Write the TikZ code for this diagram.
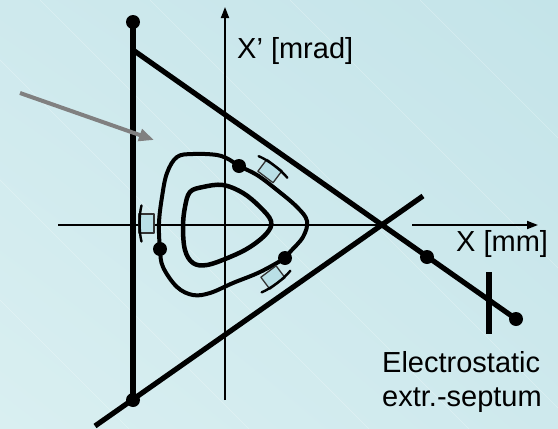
\documentclass[tikz,border=0pt]{standalone}
\usepackage{fontspec}
\setmainfont{Liberation Sans}
\usetikzlibrary{arrows.meta,shadings}
\definecolor{bgA}{HTML}{C4E4E9}
\definecolor{bgB}{HTML}{D9EFF1}
\definecolor{bgM}{HTML}{CEE9ED}
\definecolor{boxfill}{HTML}{B9DFE6}
\definecolor{arrowgray}{HTML}{808080}
\begin{document}
\begin{tikzpicture}[x=1pt,y=-1pt,
  frame/.style={line width=5.2pt},
  orbitline/.style={line width=4pt, line join=round},
  axisline/.style={line width=1.8pt},
  axisarrow/.style={axisline, -{Triangle[length=11pt,width=8pt]}},
  dotpt/.style={circle, fill=black, inner sep=0pt, minimum size=14pt},
  lbl/.style={font=\fontsize{29}{35}\selectfont, inner sep=0pt},
  septbox/.style={fill=boxfill, draw=black!80, line width=1.3pt, line join=round},
  septplate/.style={draw=black, line width=2.4pt, line cap=round},
  faint/.style={white, opacity=0.3, line width=0.7pt}
]
\useasboundingbox (0,0) rectangle (558,429);
% background
\shade[upper right=bgA, lower left=bgB, upper left=bgM, lower right=bgM] (0,0) rectangle (558,429);
\foreach \c in {-300,-180,-60,40,150,290,420,560}
  \draw[faint] (\c,0) -- ++(429,429);

% axes
\coordinate (ybot) at (225,400);
\coordinate (ytop) at (225,7);
\coordinate (xl) at (58,225);
\coordinate (xm1) at (378,225);
\coordinate (xm2) at (412,225);
\coordinate (xr) at (538,225);
\draw[axisarrow] (ybot) -- (ytop);
\draw[axisline] (xl) -- (xm1);
\draw[axisarrow] (xm2) -- (xr);

% separatrix triangle
\node[dotpt] (vt) at (133,22) {};
\node[dotpt] (vb) at (133,400) {};
\coordinate (ua) at (133,50);
\node[dotpt] (ue) at (516,319) {};
\node[dotpt] (um) at (427,257) {};
\coordinate (la) at (95,426);
\coordinate (le) at (423,196);
\draw[frame] (vt.center) -- (vb.center);
\draw[frame] (ua) -- (ue.center);
\draw[frame] (la) -- (le);

% septum
\coordinate (st) at (489,272);
\coordinate (sb) at (489,334);
\draw[frame] (st) -- (sb);

% orbits
\draw[orbitline] plot[smooth cycle, tension=0.6] coordinates {
 (177,157) (193,154) (217,155) (230,160) (239,166) (257,175) (277,190)
 (297,207) (307,221) (303,237) (290,252) (285,258) (260,272) (233,283)
 (210,293) (193,295) (177,287) (163,267) (160,249) (159,223) (162,197) (167,173)};
\draw[orbitline, line width=4.5pt] plot[smooth cycle, tension=0.6] coordinates {
 (190,192) (203,187) (223,185) (243,193) (260,207) (271,221) (267,233)
 (250,247) (230,257) (207,265) (193,263) (185,250) (183,227) (185,207)};
\node[dotpt] (o1) at (239,166) {};
\node[dotpt] (o2) at (285,258) {};
\node[dotpt] (o3) at (160,249) {};

% septum symbols
\foreach \px/\py/\ang in {139/223.5/0, 274.5/165/233, 277.5/283.5/127}{
  \begin{scope}[shift={(\px,\py)}, rotate=\ang]
    \draw[septbox] (0,-9.5) rectangle (15,9.5);
    \draw[septplate] (2.5,-18) .. controls (0,-9) and (0,9) .. (2.5,18);
  \end{scope}
}

% gray arrow
\coordinate (ga) at (20,93);
\coordinate (gb) at (154,140);
\draw[arrowgray, line width=4pt, -{Triangle[length=15pt,width=12pt]}] (ga) -- (gb);

% labels
\node[lbl, anchor=base west] (ylab) at (237,58) {X’ [mrad]};
\node[lbl, anchor=base west] (xlab) at (456,251) {X [mm]};
\node[lbl, anchor=base west] (el1) at (382,372) {Electrostatic};
\node[lbl, anchor=base west] (el2) at (382,406) {extr.-septum};
\end{tikzpicture}
\end{document}
